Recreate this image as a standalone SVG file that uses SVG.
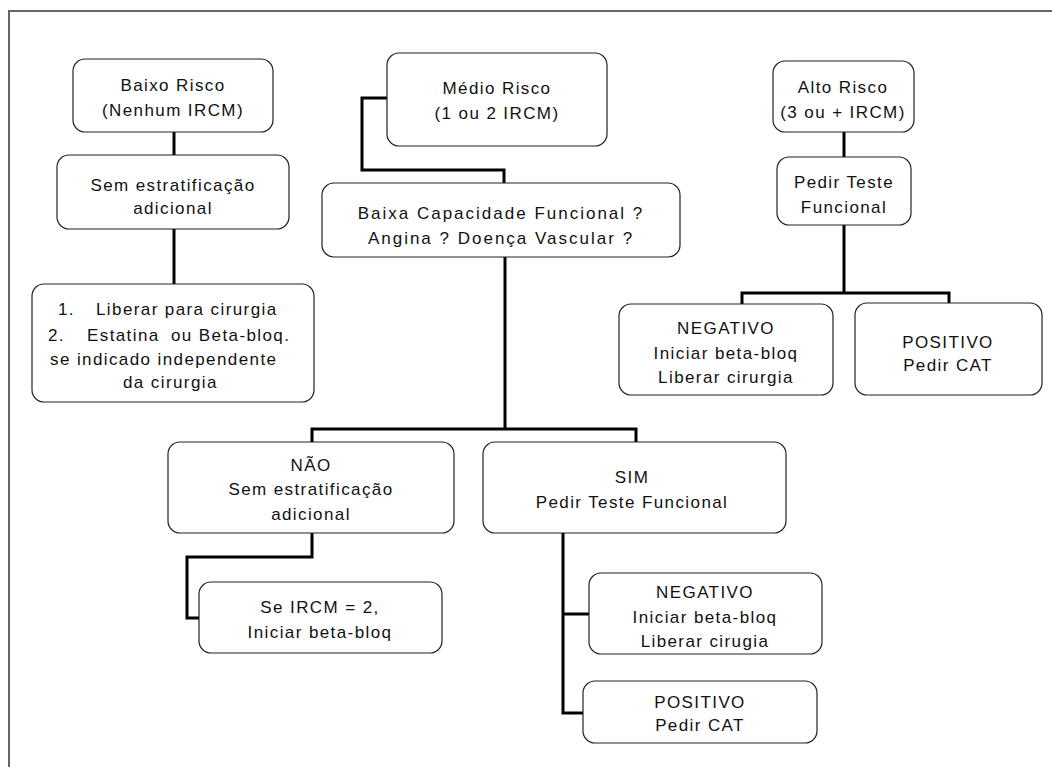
<svg xmlns="http://www.w3.org/2000/svg" width="1052" height="767" viewBox="0 0 1052 767">
<style>
.bx{fill:#fff;stroke:#222;stroke-width:1.2}
.t{font-family:"Liberation Sans",Arial,sans-serif;font-size:17px;fill:#111;letter-spacing:1.4px;text-anchor:middle}
.l{text-anchor:start}
.w{letter-spacing:2px}
.c{fill:none;stroke:#000;stroke-width:3}
.f{fill:none;stroke:#666;stroke-width:2}
</style>
<rect width="1052" height="767" fill="#fff"/>
<path class="f" d="M1052,11 H9 V767"/>
<g id="connectors">
<path class="c" d="M174,132 V155"/>
<path class="c" d="M174,229 V284"/>
<path class="c" d="M387,98 H362 V170 H504 V183"/>
<path class="c" d="M505,257 V429"/>
<path class="c" d="M312,442 V429 H636 V442"/>
<path class="c" d="M312,533 V557 H187 V618 H199"/>
<path class="c" d="M563,533 V713 H583"/>
<path class="c" d="M563,614 H589"/>
<path class="c" d="M844,132 V157"/>
<path class="c" d="M844,225 V293"/>
<path class="c" d="M742,304 V293 H949 V304"/>
</g>
<g id="baixo">
<rect class="bx" x="73" y="59" width="200" height="73" rx="12"/>
<text class="t" x="173" y="91">Baixo Risco</text>
<text class="t" x="173" y="116">(Nenhum IRCM)</text>
</g>
<g id="sem">
<rect class="bx" x="57" y="155" width="232" height="74" rx="12"/>
<text class="t" x="173" y="191">Sem estratificação</text>
<text class="t" x="173" y="214">adicional</text>
</g>
<g id="liberar">
<rect class="bx" x="32" y="284" width="282" height="118" rx="12"/>
<text class="t l" x="58" y="315">1.</text>
<text class="t l" x="96" y="315">Liberar para cirurgia</text>
<text class="t l" x="48" y="341">2.</text>
<text class="t l" x="87" y="341">Estatina</text>
<text class="t l" x="171" y="341">ou Beta-bloq.</text>
<text class="t l" x="50" y="365">se indicado independente</text>
<text class="t l" x="123" y="388">da cirurgia</text>
</g>
<g id="medio">
<rect class="bx" x="387" y="53" width="220" height="93" rx="12"/>
<text class="t" x="497" y="94">Médio Risco</text>
<text class="t" x="497" y="119">(1 ou 2 IRCM)</text>
</g>
<g id="baixa">
<rect class="bx" x="322" y="183" width="358" height="74" rx="12"/>
<text class="t w" x="501" y="219">Baixa Capacidade Funcional ?</text>
<text class="t w" x="501" y="244">Angina ? Doença Vascular ?</text>
</g>
<g id="alto">
<rect class="bx" x="773" y="61" width="141" height="71" rx="12"/>
<text class="t" x="843" y="93">Alto Risco</text>
<text class="t" x="843" y="118">(3 ou + IRCM)</text>
</g>
<g id="pedir">
<rect class="bx" x="777" y="157" width="134" height="68" rx="12"/>
<text class="t" x="844" y="188">Pedir Teste</text>
<text class="t" x="844" y="213">Funcional</text>
</g>
<g id="negativo-alto">
<rect class="bx" x="619" y="304" width="214" height="91" rx="12"/>
<text class="t" x="726" y="334">NEGATIVO</text>
<text class="t" x="726" y="359">Iniciar beta-bloq</text>
<text class="t" x="726" y="383">Liberar cirurgia</text>
</g>
<g id="positivo-alto">
<rect class="bx" x="855" y="303" width="187" height="92" rx="12"/>
<text class="t" x="948" y="348">POSITIVO</text>
<text class="t" x="948" y="371">Pedir CAT</text>
</g>
<g id="nao">
<rect class="bx" x="168" y="442" width="286" height="91" rx="12"/>
<text class="t" x="311" y="471">NÃO</text>
<text class="t" x="311" y="495">Sem estratificação</text>
<text class="t" x="311" y="520">adicional</text>
</g>
<g id="sim">
<rect class="bx" x="483" y="442" width="303" height="91" rx="12"/>
<text class="t" x="632" y="483">SIM</text>
<text class="t" x="632" y="508">Pedir Teste Funcional</text>
</g>
<g id="se-ircm">
<rect class="bx" x="199" y="582" width="243" height="71" rx="12"/>
<text class="t" x="320" y="613">Se IRCM = 2,</text>
<text class="t" x="320" y="638">Iniciar beta-bloq</text>
</g>
<g id="negativo-medio">
<rect class="bx" x="589" y="573" width="233" height="81" rx="12"/>
<text class="t" x="705" y="598">NEGATIVO</text>
<text class="t" x="705" y="623">Iniciar beta-bloq</text>
<text class="t" x="705" y="647">Liberar cirugia</text>
</g>
<g id="positivo-medio">
<rect class="bx" x="583" y="681" width="234" height="62" rx="12"/>
<text class="t" x="700" y="708">POSITIVO</text>
<text class="t" x="700" y="731">Pedir CAT</text>
</g>
</svg>
